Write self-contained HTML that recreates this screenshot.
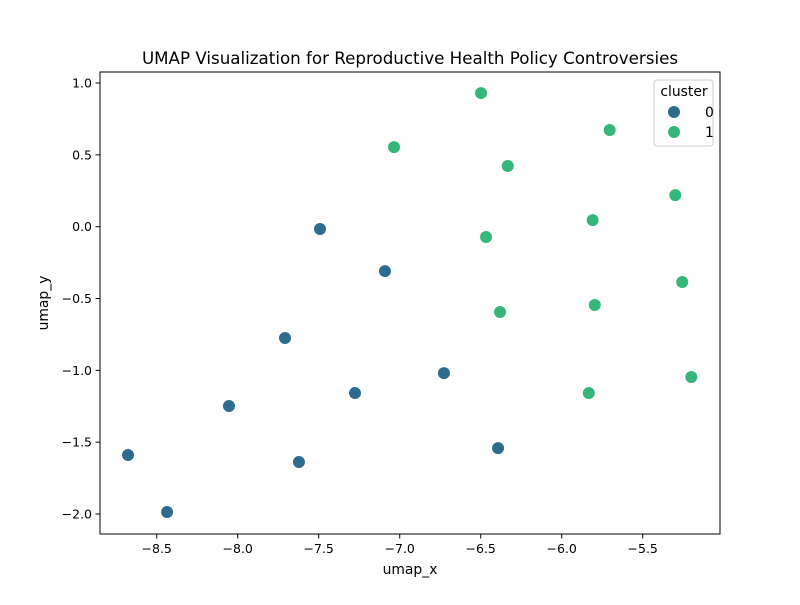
<!DOCTYPE html>
<html><head><meta charset="utf-8"><style>
body{margin:0;background:#fff;font-family:"Liberation Sans","DejaVu Sans",sans-serif}
svg text{font-family:"DejaVu Sans","Liberation Sans",sans-serif}
</style></head><body>
<svg id="chart" width="800" height="600" xmlns="http://www.w3.org/2000/svg">
<rect width="800" height="600" fill="#fff"/>
<text x="410" y="64" text-anchor="middle" font-size="16.7">UMAP Visualization for Reproductive Health Policy Controversies</text>
<g id="ticks"></g>
<g id="points"></g>
<rect x="100" y="72" width="620" height="462" fill="none" stroke="#000" stroke-width="1"/>
<text x="410" y="574" text-anchor="middle" font-size="13.9">umap_x</text>
<text transform="translate(48,303) rotate(-90)" text-anchor="middle" font-size="13.9">umap_y</text>
<g>
<rect x="654" y="80" width="59" height="66" rx="3" fill="#fff" fill-opacity="0.8" stroke="#ccc"/>
<text x="684" y="96" text-anchor="middle" font-size="13.9">cluster</text>
<circle cx="674" cy="112" r="6.5" fill="#2f6b8e" stroke="#fff" stroke-width="1"/>
<text x="705" y="117" font-size="13.9">0</text>
<circle cx="674" cy="132" r="6.5" fill="#35b779" stroke="#fff" stroke-width="1"/>
<text x="705" y="137" font-size="13.9">1</text>
</g>
</svg>
<script>
const cluster0X=[-8.677,-8.436,-8.054,-7.708,-7.622,-7.492,-7.276,-7.091,-6.727,-6.393];
const cluster0Y=[-1.589,-1.986,-1.248,-0.775,-1.638,-0.016,-1.158,-0.309,-1.019,-1.541];
const cluster1X=[-6.498,-7.035,-6.333,-5.704,-5.809,-6.467,-6.381,-5.796,-5.833,-5.299,-5.256,-5.200];
const cluster1Y=[0.930,0.554,0.422,0.673,0.046,-0.072,-0.594,-0.545,-1.158,0.220,-0.385,-1.046];
const xTicks=[-8.5,-8.0,-7.5,-7.0,-6.5,-6.0,-5.5];
const yTicks=[1.0,0.5,0.0,-0.5,-1.0,-1.5,-2.0];
const X0=-8.850,X1=-5.023,Y0=-2.139,Y1=1.0766;
const sx=v=>100+(v-X0)/(X1-X0)*620;
const sy=v=>534-(v-Y0)/(Y1-Y0)*462;
const NS="http://www.w3.org/2000/svg";
const tg=document.getElementById('ticks'),pg=document.getElementById('points');
function mk(t,a,p){const e=document.createElementNS(NS,t);for(const k in a)e.setAttribute(k,a[k]);p.appendChild(e);return e;}
const fmt=v=>(v<0?'\u2212':'')+Math.abs(v).toFixed(1);
xTicks.forEach(v=>{const x=sx(v);
const l=mk('line',{x1:x,x2:x,y1:534,y2:538.5,stroke:'#000'},tg);


const t=mk('text',{x:x,y:553,'text-anchor':'middle','font-size':12.5},tg);t.textContent=fmt(v);

});
yTicks.forEach(v=>{const y=sy(v);
const l=mk('line',{x1:95.5,x2:100,y1:y,y2:y,stroke:'#000'},tg);


const t=mk('text',{x:92,y:y+4.5,'text-anchor':'end','font-size':12.5},tg);t.textContent=fmt(v);

});
function pts(xs,ys,c,n){xs.forEach((v,i)=>{const e=mk('circle',{cx:sx(v),cy:sy(ys[i]),r:6.5,fill:c,stroke:'#fff','stroke-width':1},pg);

});}
pts(cluster0X,cluster0Y,'#2f6b8e','point-cluster-0');
pts(cluster1X,cluster1Y,'#35b779','point-cluster-1');
</script>
</body></html>
